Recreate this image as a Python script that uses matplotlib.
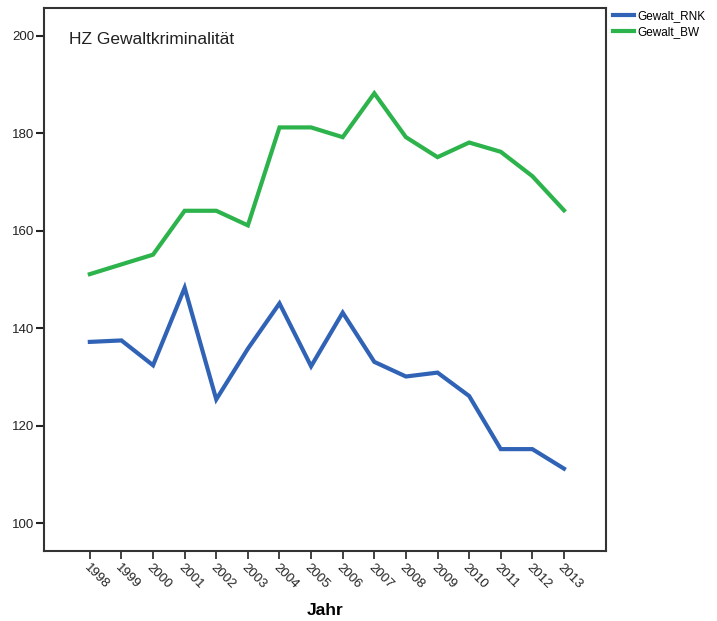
import matplotlib
matplotlib.use("Agg")
import matplotlib.pyplot as plt

plt.rcParams['font.family'] = ['Liberation Sans', 'DejaVu Sans']

years = [1998, 1999, 2000, 2001, 2002, 2003, 2004, 2005, 2006, 2007, 2008, 2009, 2010, 2011, 2012, 2013]
gewalt_rnk = [137.2, 137.5, 132.4, 148.3, 125.4, 135.8, 145.1, 132.2, 143.2, 133.1, 130.1, 130.9, 126.1, 115.2, 115.2, 111.2]
gewalt_bw = [151.1, 153.1, 155.1, 164.1, 164.1, 161.1, 181.2, 181.2, 179.2, 188.2, 179.2, 175.1, 178.1, 176.2, 171.2, 164.2]
series_names = ["Gewalt_RNK", "Gewalt_BW"]
yticks = [100, 120, 140, 160, 180, 200]
title_text = "HZ Gewaltkriminalität"
xlabel_text = "Jahr"

fig = plt.figure(figsize=(7.17, 6.21), dpi=100)
ax = fig.add_axes([44/717, 1 - 551/621, (606-44)/717, (551-8)/621])

ax.plot(years, gewalt_rnk, color='#3063b5', lw=3.0, label=series_names[0], solid_joinstyle='miter')
ax.plot(years, gewalt_bw, color='#2db34c', lw=3.0, label=series_names[1], solid_joinstyle='miter')

ax.set_xlim(1996.55, 2014.33)
ax.set_ylim(94.3, 205.7)
ax.set_yticks(yticks)
ax.set_xticks(years)
ax.set_xticklabels([str(y) for y in years], rotation=-45, ha='left', va='top',
                   rotation_mode='anchor', fontsize=9.5)
ax.tick_params(axis='y', labelsize=9.5, length=6, width=1.5, direction='out', pad=1, colors='#222222')
ax.tick_params(axis='x', length=6, width=1.2, direction='out', pad=2, colors='#222222')
for s in ax.spines.values():
    s.set_linewidth(1.5)
    s.set_color('#333333')

ax.text(0.045, 0.955, title_text, transform=ax.transAxes, fontsize=12.5, ha='left', va='top', color='#222222')
ax.set_xlabel(xlabel_text, fontsize=12.5, fontweight='bold', labelpad=8)

leg = ax.legend(loc='upper left', bbox_to_anchor=(1.0, 1.01), frameon=False, fontsize=8.5,
                handlelength=1.8, handletextpad=0.25, labelspacing=0.35, borderaxespad=0.3,
                borderpad=0.3)

fig.savefig('out.png', dpi=100, facecolor='white')
